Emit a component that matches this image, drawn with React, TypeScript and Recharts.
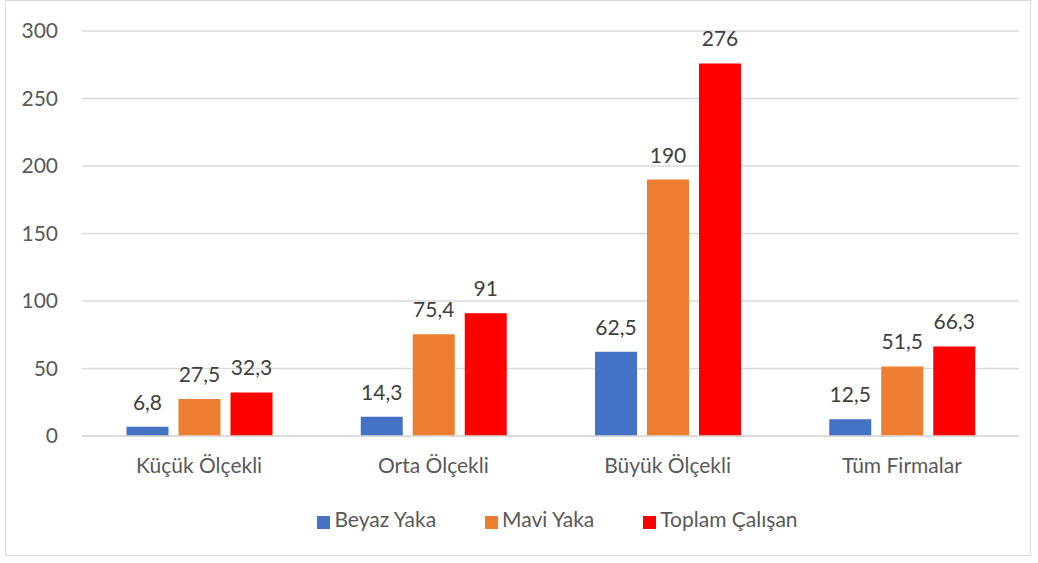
import React from "react";
import {
  BarChart,
  Bar,
  XAxis,
  YAxis,
  CartesianGrid,
  Legend,
  LabelList,
} from "recharts";

const categories = ["Küçük Ölçekli", "Orta Ölçekli", "Büyük Ölçekli", "Tüm Firmalar"];
const beyazYaka = [6.8, 14.3, 62.5, 12.5];
const maviYaka = [27.5, 75.4, 190, 51.5];
const toplamCalisan = [32.3, 91, 276, 66.3];
const yTicks = [0, 50, 100, 150, 200, 250, 300];

const data = categories.map((name, i) => ({
  name,
  beyaz: beyazYaka[i],
  mavi: maviYaka[i],
  toplam: toplamCalisan[i],
}));

const FONT = "Lato, 'Open Sans', sans-serif";
const fmt = (v: unknown) => String(v).replace(".", ",");

export default function App() {
  return (
    <div
      style={{
        position: "absolute",
        left: 0,
        top: 0,
        width: 1038,
        height: 563,
        background: "#fff",
        fontFamily: FONT,
      }}
    >
      <div
        style={{
          position: "absolute",
          left: 5,
          top: 0,
          width: 1026,
          height: 556,
          border: "1.5px solid #d9d9d9",
          boxSizing: "border-box",
        }}
      />
      <BarChart
        width={1038}
        height={563}
        data={data}
        margin={{ top: 31, right: 19, left: 5, bottom: 17 }}
        barCategoryGap="19%"
        barGap={10}
      >
        <CartesianGrid vertical={false} stroke="#d9d9d9" strokeWidth={1.5} />
        <XAxis
          dataKey="name"
          height={70}
          tickLine={false}
          axisLine={{ stroke: "#d9d9d9", strokeWidth: 1.5 }}
          tickMargin={16}
          tick={{ fontSize: 21, fill: "#595959", fontFamily: FONT }}
        />
        <YAxis
          width={77}
          domain={[0, 300]}
          ticks={yTicks}
          axisLine={false}
          tickLine={false}
          tickSize={0}
          tickMargin={24}
          tick={{ fontSize: 21, fill: "#595959", fontFamily: FONT }}
        />
        <Legend
          verticalAlign="bottom"
          height={40}
          iconType="square"
          iconSize={13}
          wrapperStyle={{ paddingLeft: 140, boxSizing: "border-box" }}
          formatter={(value) => (
            <span style={{ color: "#595959", fontSize: 21, marginRight: 39, fontFamily: FONT }}>
              {value}
            </span>
          )}
        />
        <Bar dataKey="beyaz" name="Beyaz Yaka" fill="#4472C4" isAnimationActive={false}>
          <LabelList dataKey="beyaz" position="top" offset={17} formatter={fmt} fill="#404040" fontSize={21} fontFamily={FONT} />
        </Bar>
        <Bar dataKey="mavi" name="Mavi Yaka" fill="#ED7D31" isAnimationActive={false}>
          <LabelList dataKey="mavi" position="top" offset={17} formatter={fmt} fill="#404040" fontSize={21} fontFamily={FONT} />
        </Bar>
        <Bar dataKey="toplam" name="Toplam Çalışan" fill="#FF0000" isAnimationActive={false}>
          <LabelList dataKey="toplam" position="top" offset={17} formatter={fmt} fill="#404040" fontSize={21} fontFamily={FONT} />
        </Bar>
      </BarChart>
    </div>
  );
}
